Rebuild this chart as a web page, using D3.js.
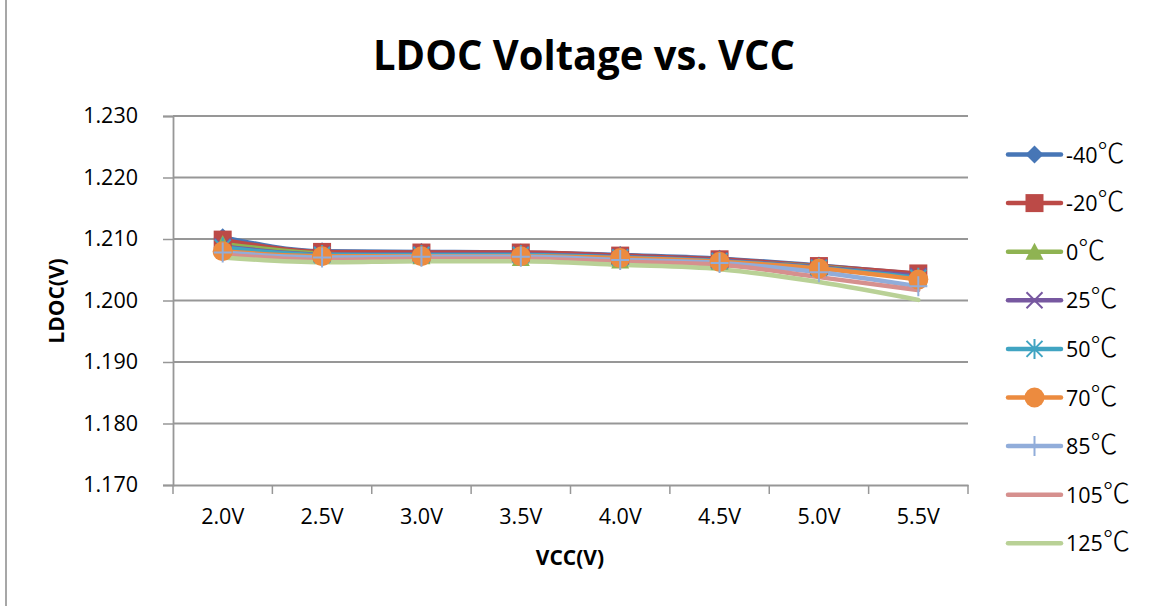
<!DOCTYPE html>
<html>
<head>
<meta charset="utf-8">
<script src="https://cdn.jsdelivr.net/npm/d3@7/dist/d3.min.js"></script>
<style>
  html, body { margin: 0; padding: 0; background: #fff; }
  svg { display: block; }
</style>
</head>
<body>
<svg id="chart" width="1155" height="606"></svg>
<script>
// Supply voltage categories (x axis)
const vccLabels = ["2.0V", "2.5V", "3.0V", "3.5V", "4.0V", "4.5V", "5.0V", "5.5V"];

// Y axis tick values (V)
const yTicks = [1.170, 1.180, 1.190, 1.200, 1.210, 1.220, 1.230];

// Temperature series names
const tempNames = ["-40℃", "-20℃", "0℃", "25℃", "50℃", "70℃", "85℃", "105℃", "125℃"];

// LDOC output voltage per temperature, one value per VCC step
const ldocM40  = [1.2103, 1.2080, 1.2079, 1.2078, 1.2074, 1.2068, 1.2057, 1.2043];
const ldocM20  = [1.2099, 1.2079, 1.2078, 1.2078, 1.2073, 1.2067, 1.2056, 1.2044];
const ldoc0    = [1.2092, 1.2076, 1.2072, 1.2069, 1.2065, 1.2063, 1.2055, 1.2038];
const ldoc25   = [1.2088, 1.2075, 1.2075, 1.2075, 1.2071, 1.2065, 1.2054, 1.2040];
const ldoc50   = [1.2086, 1.2074, 1.2074, 1.2074, 1.2070, 1.2064, 1.2053, 1.2037];
const ldoc70   = [1.2080, 1.2072, 1.2072, 1.2072, 1.2069, 1.2063, 1.2052, 1.2034];
const ldoc85   = [1.2078, 1.2070, 1.2071, 1.2071, 1.2066, 1.2061, 1.2046, 1.2023];
const ldoc105  = [1.2075, 1.2066, 1.2068, 1.2068, 1.2063, 1.2058, 1.2038, 1.2017];
const ldoc125  = [1.2070, 1.2062, 1.2064, 1.2064, 1.2058, 1.2051, 1.2030, 1.2001];

const seriesValues = [ldocM40, ldocM20, ldoc0, ldoc25, ldoc50, ldoc70, ldoc85, ldoc105, ldoc125];

// Per-series style
const colors  = ["#4776B6", "#BC4A47", "#8FB352", "#7758A0", "#40A4C2", "#EC8B3F", "#91ADDA", "#D6908E", "#B9D196"];
const markers = ["diamond", "square", "triangle", "x", "asterisk", "circle", "plus", null, null];

const svg = d3.select("#chart");
const W = 1155, H = 606;
const plot = { left: 173, right: 968, top: 116, bottom: 485 };
const FONT = "'Open Sans', 'Noto Sans CJK SC', sans-serif";
const CJK = "'Noto Sans CJK SC', sans-serif";
const GRID = "#979797";

// Chart frame edge on the left
svg.append("line")
  .attr("x1", 6).attr("x2", 6).attr("y1", 0).attr("y2", H)
  .attr("stroke", "#8a8a8a").attr("stroke-width", 1.5);

const x = d3.scaleBand().domain(vccLabels).range([plot.left, plot.right]).padding(0);
const y = d3.scaleLinear().domain([1.170, 1.230]).range([plot.bottom, plot.top]);

// Horizontal gridlines
svg.append("g")
  .selectAll("line")
  .data(yTicks.filter(t => t > 1.170))
  .join("line")
  .attr("x1", plot.left).attr("x2", plot.right)
  .attr("y1", d => y(d)).attr("y2", d => y(d))
  .attr("stroke", GRID).attr("stroke-width", 1.8);

// Y axis
const yAxis = svg.append("g")
  .attr("transform", `translate(${plot.left},0)`)
  .call(d3.axisLeft(y).tickValues(yTicks).tickFormat(d3.format(".3f")).tickSize(10).tickPadding(25));
yAxis.select(".domain").attr("stroke", GRID).attr("stroke-width", 1.8);
yAxis.selectAll(".tick line").attr("stroke", GRID).attr("stroke-width", 1.5);
yAxis.selectAll(".tick text")
  .attr("font-family", FONT).attr("font-size", 21.5).attr("fill", "#000");

// X axis: labels centred in each category, ticks on category boundaries
const xAxis = svg.append("g")
  .attr("transform", `translate(0,${plot.bottom})`)
  .call(d3.axisBottom(x).tickSize(0).tickPadding(24));
xAxis.select(".domain").attr("stroke", GRID).attr("stroke-width", 1.8);
xAxis.selectAll(".tick text")
  .attr("font-family", FONT).attr("font-size", 21.5).attr("fill", "#000");

const boundaries = vccLabels.map(c => x(c)).concat([x(vccLabels[vccLabels.length - 1]) + x.bandwidth()]);
svg.append("g")
  .selectAll("line")
  .data(boundaries)
  .join("line")
  .attr("x1", d => d).attr("x2", d => d)
  .attr("y1", plot.bottom).attr("y2", plot.bottom + 9)
  .attr("stroke", GRID).attr("stroke-width", 1.5);

// Titles
const title = svg.append("text")
  .attr("x", 584).attr("y", 70)
  .attr("text-anchor", "middle")
  .attr("font-family", FONT).attr("font-weight", 700).attr("font-size", 42)
  .attr("fill", "#000")
  .text("LDOC Voltage vs. VCC");
// Condense the title horizontally to the narrower face width
{
  const w = title.node().getComputedTextLength();
  const s = 422 / w;
  title.attr("transform", `translate(584,0) scale(${s},1) translate(-584,0)`);
}

svg.append("text")
  .attr("x", 570).attr("y", 565)
  .attr("text-anchor", "middle")
  .attr("font-family", FONT).attr("font-weight", 700).attr("font-size", 21)
  .text("VCC(V)");

svg.append("text")
  .attr("transform", "translate(64,301) rotate(-90)")
  .attr("text-anchor", "middle")
  .attr("font-family", FONT).attr("font-weight", 700).attr("font-size", 21)
  .text("LDOC(V)");

// Marker drawing
function drawMarker(g, type, cx, cy, color) {
  const s = 9;
  switch (type) {
    case "diamond":
      g.append("path").attr("d", `M${cx},${cy - s}L${cx + s},${cy}L${cx},${cy + s}L${cx - s},${cy}Z`).attr("fill", color);
      break;
    case "square":
      g.append("rect").attr("x", cx - s).attr("y", cy - s).attr("width", 2 * s).attr("height", 2 * s).attr("fill", color);
      break;
    case "triangle":
      g.append("path").attr("d", `M${cx},${cy - s}L${cx + s},${cy + s - 1}L${cx - s},${cy + s - 1}Z`).attr("fill", color);
      break;
    case "x":
      g.append("path").attr("d", `M${cx - 8},${cy - 8}L${cx + 8},${cy + 8}M${cx - 8},${cy + 8}L${cx + 8},${cy - 8}`)
        .attr("stroke", color).attr("stroke-width", 2).attr("fill", "none");
      break;
    case "asterisk":
      g.append("path").attr("d", `M${cx - 8},${cy - 8}L${cx + 8},${cy + 8}M${cx - 8},${cy + 8}L${cx + 8},${cy - 8}M${cx},${cy - 10}L${cx},${cy + 10}`)
        .attr("stroke", color).attr("stroke-width", 2).attr("fill", "none");
      break;
    case "circle":
      g.append("circle").attr("cx", cx).attr("cy", cy).attr("r", 10).attr("fill", color);
      break;
    case "plus":
      g.append("path").attr("d", `M${cx},${cy - 10}L${cx},${cy + 10}M${cx - 9},${cy}L${cx + 9},${cy}`)
        .attr("stroke", color).attr("stroke-width", 2).attr("fill", "none");
      break;
  }
}

const line = d3.line()
  .x((d, i) => x(vccLabels[i]) + x.bandwidth() / 2)
  .y(d => y(d))
  .curve(d3.curveMonotoneX);

// Series lines
const linesG = svg.append("g");
seriesValues.forEach((vals, si) => {
  linesG.append("path")
    .attr("d", line(vals))
    .attr("fill", "none")
    .attr("stroke", colors[si])
    .attr("stroke-width", 4.5)
    .attr("stroke-linejoin", "round")
    .attr("stroke-linecap", "round");
});

// Series markers
const markG = svg.append("g");
seriesValues.forEach((vals, si) => {
  if (!markers[si]) return;
  vals.forEach((v, i) => {
    drawMarker(markG, markers[si], x(vccLabels[i]) + x.bandwidth() / 2, y(v), colors[si]);
  });
});

// Legend: the degree-Celsius sign is set in the CJK face (full-width glyph)
const legend = svg.append("g");
tempNames.forEach((name, si) => {
  const ly = 154.5 + si * 48.6;
  legend.append("line")
    .attr("x1", 1008).attr("x2", 1061).attr("y1", ly).attr("y2", ly)
    .attr("stroke", colors[si]).attr("stroke-width", 4.5).attr("stroke-linecap", "round");
  if (markers[si]) drawMarker(legend, markers[si], 1034.5, ly, colors[si]);
  const t = legend.append("text")
    .attr("x", 1066).attr("y", ly + 8)
    .attr("font-family", FONT).attr("font-size", 21.5);
  const num = name.replace("℃", "");
  t.append("tspan").text(num);
  t.append("tspan").attr("font-family", CJK).attr("font-weight", 300).attr("font-size", 27).text("℃");
});
</script>
</body>
</html>
